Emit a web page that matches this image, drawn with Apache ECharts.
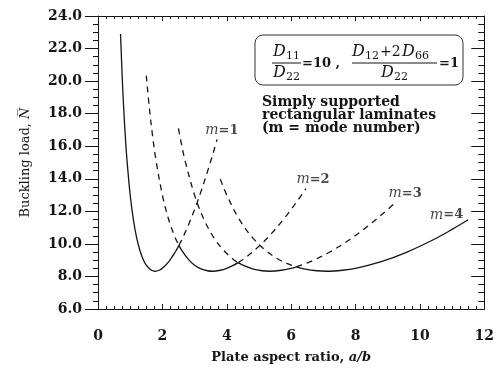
<!DOCTYPE html>
<html>
<head>
<meta charset="utf-8">
<script src="https://cdn.jsdelivr.net/npm/echarts@6/dist/echarts.min.js"></script>
<style>
  html, body { margin: 0; padding: 0; background: #fff; }
  #chart { width: 497px; height: 369px; }
</style>
</head>
<body>
<div id="chart"></div>
<script>
// ---- Data ----
const xTicks = [0, 2, 4, 6, 8, 10, 12];
const yTicks = [6.0, 8.0, 10.0, 12.0, 14.0, 16.0, 18.0, 20.0, 22.0, 24.0];

// m = 1
const m1Solid  = [[0.70,22.90],[0.75,20.34],[0.80,18.27],[0.85,16.56],[0.90,15.16],[1.00,13.00],[1.10,11.47],[1.20,10.38],[1.30,9.61],[1.40,9.06],[1.50,8.69],[1.60,8.47],[1.70,8.35],[1.78,8.32],[1.90,8.38],[2.00,8.50],[2.20,8.91],[2.40,9.50],[2.515,9.91]];
const m1Dashed = [[2.515,9.91],[2.60,10.24],[2.80,11.12],[3.00,12.11],[3.20,13.22],[3.40,14.43],[3.60,15.73],[3.70,16.42]];
// m = 2
const m2DashedL = [[1.50,20.34],[1.60,18.27],[1.70,16.56],[1.80,15.16],[2.00,13.00],[2.20,11.47],[2.40,10.38],[2.515,9.91]];
const m2Solid   = [[2.515,9.91],[2.60,9.61],[2.80,9.06],[3.00,8.69],[3.20,8.47],[3.40,8.35],[3.556,8.32],[3.80,8.38],[4.00,8.50],[4.20,8.68],[4.356,8.85]];
const m2DashedR = [[4.356,8.85],[4.60,9.18],[5.00,9.85],[5.40,10.66],[5.80,11.60],[6.20,12.65],[6.46,13.39]];
// m = 3
const m3DashedL = [[2.50,17.09],[2.55,16.56],[2.70,15.16],[3.00,13.00],[3.30,11.47],[3.60,10.38],[3.90,9.61],[4.20,9.06],[4.356,8.85]];
const m3Solid   = [[4.356,8.85],[4.50,8.69],[4.80,8.47],[5.10,8.35],[5.335,8.32],[5.70,8.38],[6.00,8.50],[6.16,8.59]];
const m3DashedR = [[6.16,8.59],[6.60,8.91],[7.20,9.50],[7.80,10.24],[8.40,11.12],[9.00,12.11],[9.20,12.47]];
// m = 4
const m4DashedL = [[3.80,13.98],[4.00,13.00],[4.40,11.47],[4.80,10.38],[5.20,9.61],[5.60,9.06],[6.00,8.69],[6.16,8.59]];
const m4Solid   = [[6.16,8.59],[6.40,8.47],[6.80,8.35],[7.11,8.32],[7.60,8.38],[8.00,8.50],[8.80,8.91],[9.60,9.50],[10.40,10.24],[11.00,10.89],[11.50,11.48]];

// curve labels (data coordinates)
const modeLabels = ['1', '2', '3', '4'];
const modeLabelPos = [[3.85,16.96],[6.68,13.95],[9.54,13.10],[10.83,11.78]];

// ---- Chart ----
const FONT = 'DejaVu Serif';
const INK = '#151515';
const chart = echarts.init(document.getElementById('chart'), null, { renderer: 'canvas' });

function solid(data) {
  return { type: 'line', data, symbol: 'none', smooth: 0.35, silent: true,
    lineStyle: { color: INK, width: 1.3, type: 'solid' }, z: 3 };
}
function dashed(data) {
  return { type: 'line', data, symbol: 'none', smooth: 0.35, silent: true,
    lineStyle: { color: INK, width: 1.3, type: [6, 5] }, z: 3 };
}

const axisCommon = {
  type: 'value',
  axisLine: { show: true, onZero: false, lineStyle: { color: INK, width: 1 } },
  splitLine: { show: false }
};

// fraction box graphics
function dSub(x, y, sub) {
  return [
    { type: 'text', style: { x: x, y: y, text: 'D', font: 'italic 16px "' + FONT + '"', fill: INK, textVerticalAlign: 'middle' } },
    { type: 'text', style: { x: x + 13, y: y + 4, text: sub, font: '11px "' + FONT + '"', fill: INK, textVerticalAlign: 'middle' } }
  ];
}
const graphics = [
  { type: 'rect', shape: { x: 255, y: 35, width: 208, height: 50, r: 8 }, style: { fill: 'none', stroke: '#333', lineWidth: 1 } },
  ...dSub(273, 52, '11'),
  { type: 'line', shape: { x1: 272, y1: 63, x2: 301, y2: 63 }, style: { stroke: INK, lineWidth: 1 } },
  ...dSub(273, 73, '22'),
  { type: 'text', style: { x: 302, y: 64, text: '=10 ,', font: 'bold 13px "' + FONT + '"', fill: INK, textVerticalAlign: 'middle' } },
  ...dSub(352, 52, '12'),
  { type: 'text', style: { x: 380, y: 52, text: '+2', font: '14px "' + FONT + '"', fill: INK, textVerticalAlign: 'middle' } },
  ...dSub(402, 52, '66'),
  { type: 'line', shape: { x1: 352, y1: 63, x2: 437, y2: 63 }, style: { stroke: INK, lineWidth: 1 } },
  ...dSub(381, 73, '22'),
  { type: 'text', style: { x: 439, y: 64, text: '=1', font: 'bold 13px "' + FONT + '"', fill: INK, textVerticalAlign: 'middle' } },
  { type: 'text', style: { x: 262, y: 102, text: 'Simply supported', font: 'bold 14px "' + FONT + '"', fill: INK, textVerticalAlign: 'middle' } },
  { type: 'text', style: { x: 262, y: 115, text: 'rectangular laminates', font: 'bold 14px "' + FONT + '"', fill: INK, textVerticalAlign: 'middle' } },
  { type: 'text', style: { x: 262, y: 128, text: '(m = mode number)', font: 'bold 14px "' + FONT + '"', fill: INK, textVerticalAlign: 'middle' } }
];

const option = {
  backgroundColor: '#fff',
  animation: false,
  grid: { left: 98, right: 9, top: 16, bottom: 54, containLabel: false },
  xAxis: [
    Object.assign({}, axisCommon, {
      position: 'bottom', min: xTicks[0], max: xTicks[xTicks.length - 1], interval: 2,
      name: 'Plate aspect ratio, {i|a/b}', nameLocation: 'middle', nameGap: 42,
      nameTextStyle: { fontFamily: FONT, fontSize: 13, fontWeight: 'bold', color: INK,
        rich: { i: { fontFamily: FONT, fontSize: 13, fontStyle: 'italic', color: INK } } },
      axisTick: { show: true, inside: true, length: 5, lineStyle: { color: INK } },
      minorTick: { show: true, splitNumber: 8, length: 3, lineStyle: { color: INK } },
      axisLabel: { show: true, margin: 20, fontFamily: FONT, fontSize: 14, fontWeight: 'bold', color: INK,
        formatter: v => String(v) }
    }),
    Object.assign({}, axisCommon, {
      position: 'top', min: xTicks[0], max: xTicks[xTicks.length - 1], interval: 2,
      axisTick: { show: true, inside: true, length: 5, lineStyle: { color: INK } },
      minorTick: { show: true, splitNumber: 8, length: 3, lineStyle: { color: INK } },
      axisLabel: { show: false }
    })
  ],
  yAxis: [
    Object.assign({}, axisCommon, {
      position: 'left', min: yTicks[0], max: yTicks[yTicks.length - 1], interval: 2,
      name: 'Buckling load, {i|N\u0305}', nameLocation: 'middle', nameGap: 66,
      nameTextStyle: { fontFamily: FONT, fontSize: 13, color: INK,
        rich: { i: { fontFamily: FONT, fontSize: 13, fontStyle: 'italic', color: INK } } },
      axisTick: { show: true, inside: false, length: 13, lineStyle: { color: INK } },
      minorTick: { show: true, splitNumber: 4, length: 5, lineStyle: { color: INK } },
      axisLabel: { show: true, margin: 16, fontFamily: FONT, fontSize: 14, fontWeight: 'bold', color: INK,
        formatter: v => v.toFixed(1) }
    }),
    Object.assign({}, axisCommon, {
      position: 'right', min: yTicks[0], max: yTicks[yTicks.length - 1], interval: 2,
      axisTick: { show: true, inside: true, length: 13, lineStyle: { color: INK } },
      minorTick: { show: true, splitNumber: 4, length: 6, lineStyle: { color: INK } },
      axisLabel: { show: false }
    })
  ],
  series: [
    solid(m1Solid), dashed(m1Dashed),
    dashed(m2DashedL), solid(m2Solid), dashed(m2DashedR),
    dashed(m3DashedL), solid(m3Solid), dashed(m3DashedR),
    dashed(m4DashedL), solid(m4Solid),
    {
      type: 'scatter', symbolSize: 0, silent: true, z: 5,
      data: modeLabelPos.map((p, i) => ({ value: p, name: modeLabels[i] })),
      label: {
        show: true, position: 'inside',
        formatter: p => '{i|m}{t|=' + p.name + '}',
        rich: {
          i: { fontFamily: FONT, fontSize: 14, fontStyle: 'italic', color: INK },
          t: { fontFamily: FONT, fontSize: 13, fontWeight: 'bold', color: INK }
        }
      }
    }
  ],
  graphic: graphics
};
chart.setOption(option);
</script>
</body>
</html>
